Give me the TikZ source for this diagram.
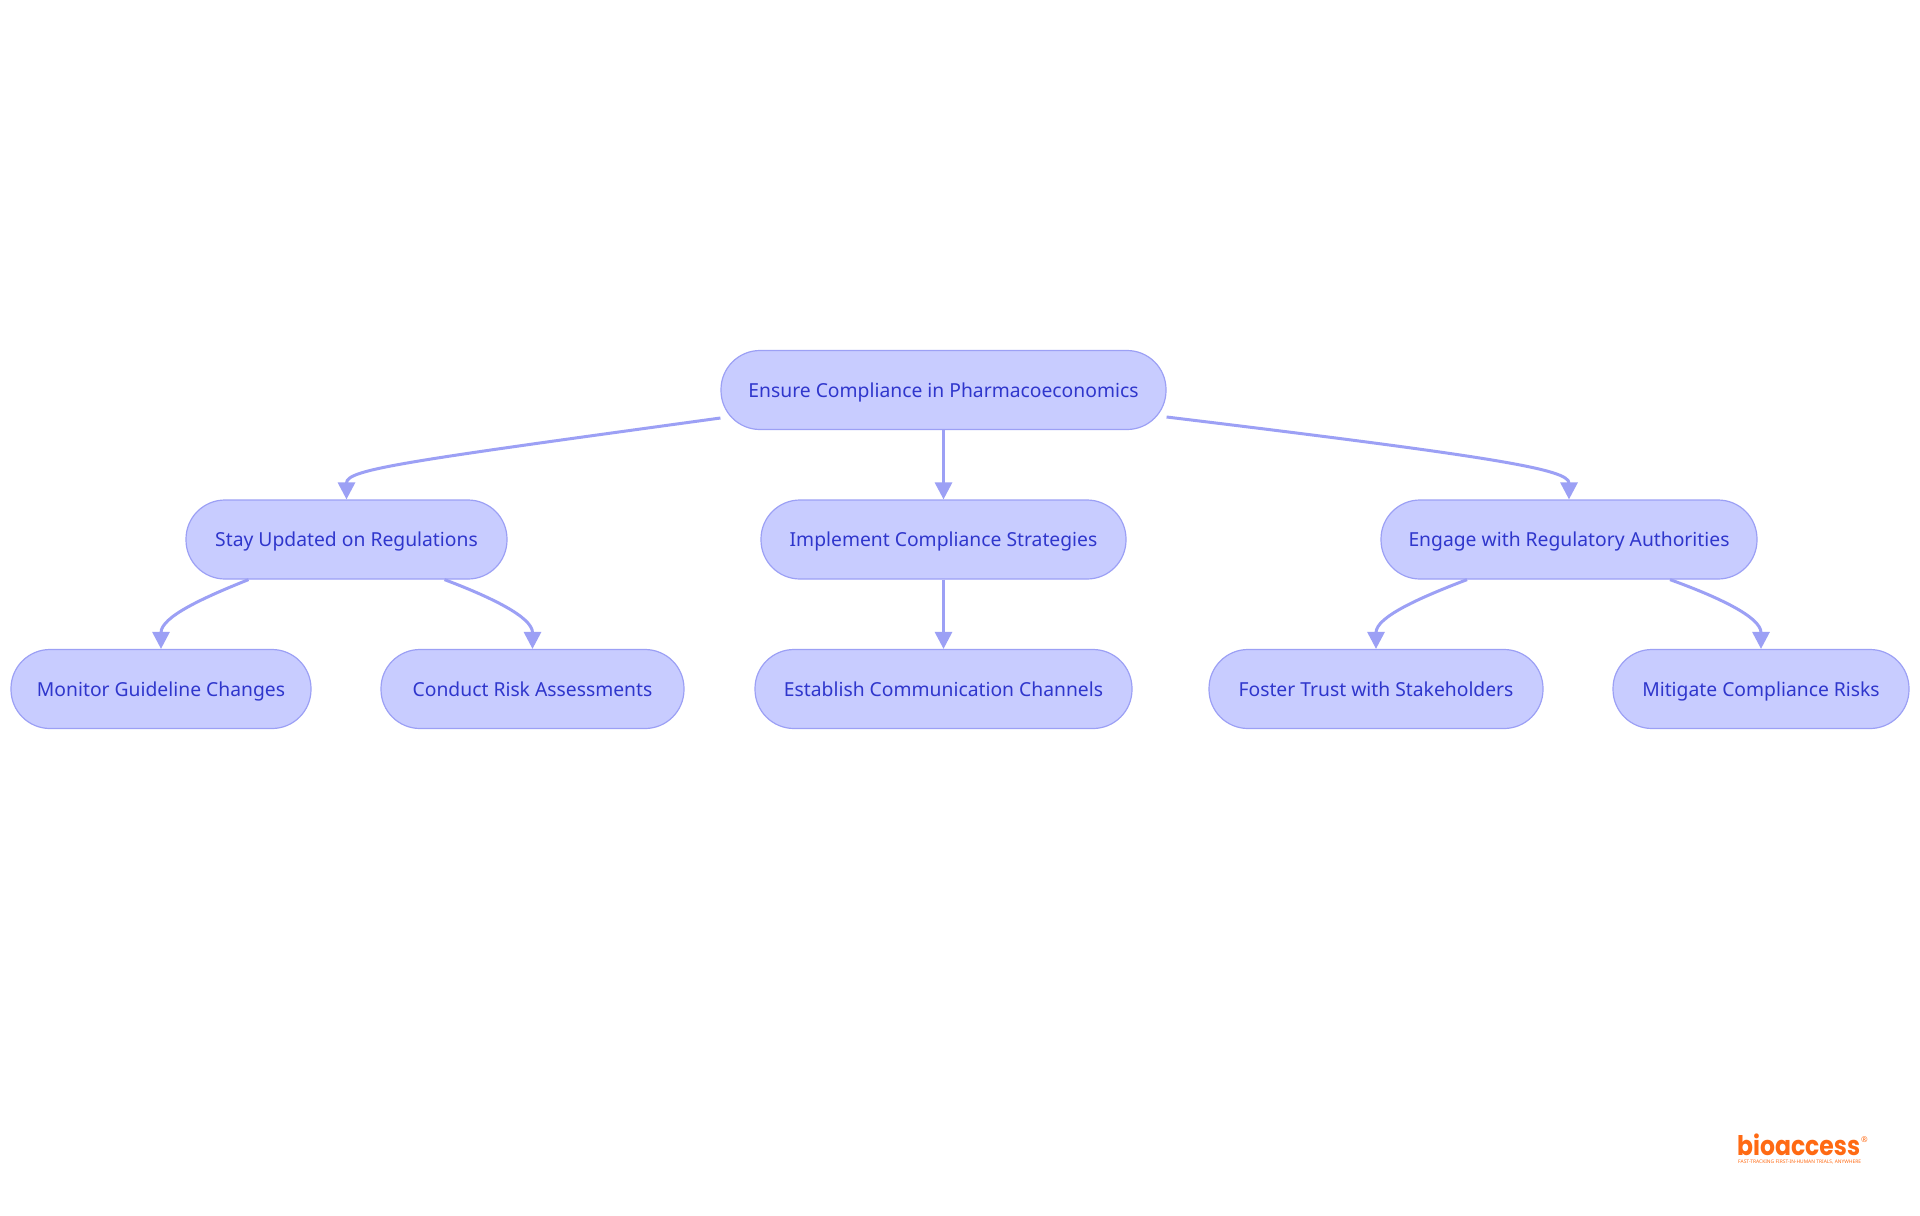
\documentclass[tikz,border=0pt]{standalone}
\usepackage{fontspec}
\setmainfont{Noto Sans}
\newfontfamily\logofont{Poppins}
\usetikzlibrary{arrows.meta}
\definecolor{nodefill}{HTML}{C8CCFF}
\definecolor{edgecol}{HTML}{9CA0F5}
\definecolor{textcol}{HTML}{2F36CC}
\definecolor{logocol}{HTML}{FF6A13}
\tikzset{
  pill/.style={draw=edgecol,fill=nodefill,line width=1.2bp,rounded corners=39bp,inner sep=0pt,
    minimum height=79bp,text height=18bp,text depth=4bp,text=textcol,font=\fontsize{19.3bp}{24bp}\selectfont},
  flow/.style={draw=edgecol,line width=3bp,-{Triangle[length=17bp,width=17bp]}},
  logotext/.style={inner sep=0pt,text=logocol,anchor=base west,text depth=0pt}
}
\begin{document}
\begin{tikzpicture}[x=1bp,y=-1bp]
\useasboundingbox (0,0) rectangle (1920,1215);
\fill[white] (0,0) rectangle (1920,1215);
\node[pill,minimum width=445bp] (root) at (943.5,390) {Ensure Compliance in Pharmacoeconomics};
\node[pill,minimum width=321bp] (a) at (346.5,539.5) {Stay Updated on Regulations};
\node[pill,minimum width=365bp] (b) at (943.5,539.5) {Implement Compliance Strategies};
\node[pill,minimum width=376bp] (c) at (1569,539.5) {Engage with Regulatory Authorities};
\node[pill,minimum width=300bp] (a1) at (161,689) {Monitor Guideline Changes};
\node[pill,minimum width=303bp] (a2) at (532.5,689) {Conduct Risk Assessments};
\node[pill,minimum width=377bp] (b1) at (943.5,689) {Establish Communication Channels};
\node[pill,minimum width=334bp] (c1) at (1376,689) {Foster Trust with Stakeholders};
\node[pill,minimum width=296bp] (c2) at (1761,689) {Mitigate Compliance Risks};

\draw[flow] ([yshift=-28bp]root.west) .. controls +(-320,44) and +(0,-30) .. (a.north);
\draw[flow] (root.south) -- (b.north);
\draw[flow] ([yshift=-27bp]root.east) .. controls +(330,40) and +(0,-30) .. (c.north);
\draw[flow] ([xshift=-98bp]a.south) .. controls +(-45,18) and +(0,-32) .. (a1.north);
\draw[flow] ([xshift=98bp]a.south) .. controls +(45,17) and +(0,-32) .. (a2.north);
\draw[flow] (b.south) -- (b1.north);
\draw[flow] ([xshift=-102bp]c.south) .. controls +(-47,18) and +(0,-32) .. (c1.north);
\draw[flow] ([xshift=101bp]c.south) .. controls +(47,17) and +(0,-32) .. (c2.north);

\node[logotext,font=\logofont\bfseries\fontsize{27bp}{30bp}\selectfont] (logo) at (1737,1155) {\scalebox{0.87}[1]{bioaccess}};
\node[logotext,font=\fontsize{8bp}{8bp}\selectfont] (reg) at (1861,1142) {®};
\node[logotext,font=\bfseries\fontsize{4.9bp}{5bp}\selectfont] (tag) at (1738,1163) {FAST-TRACKING FIRST-IN-HUMAN TRIALS, ANYWHERE};
\end{tikzpicture}
\end{document}
